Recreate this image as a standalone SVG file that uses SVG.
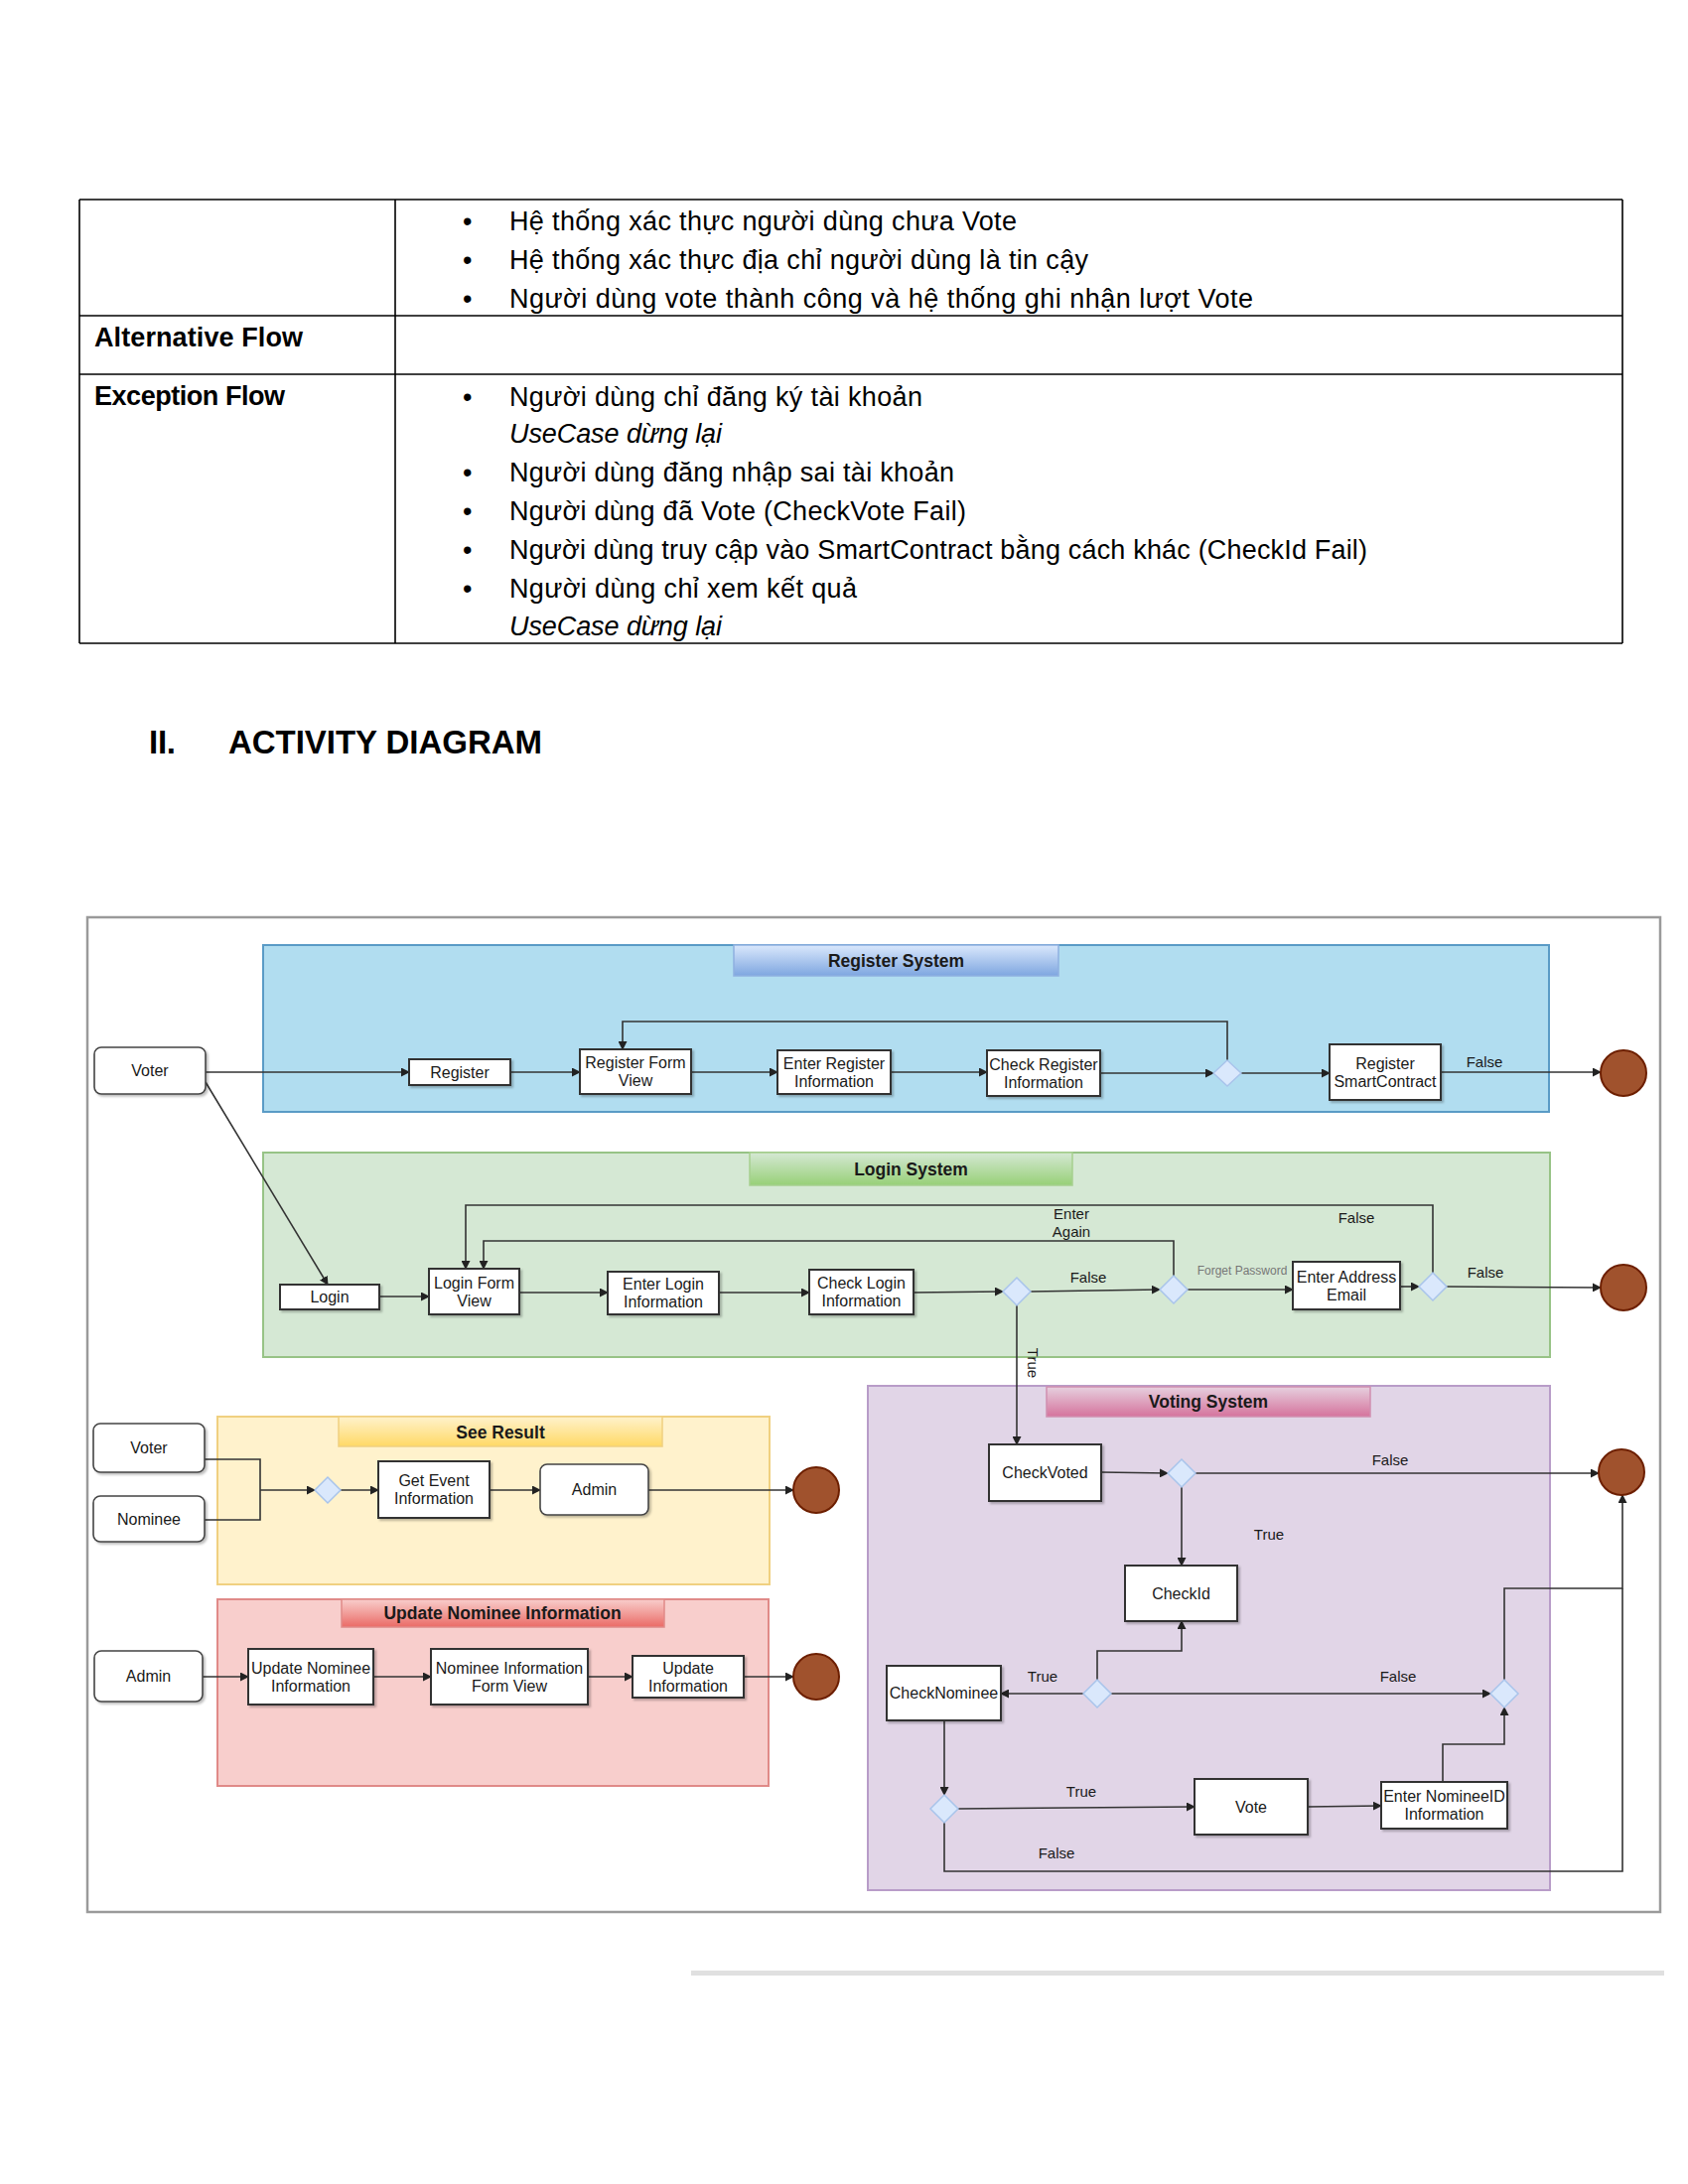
<svg xmlns="http://www.w3.org/2000/svg" width="1700" height="2200" viewBox="0 0 1700 2200">
<defs>
<style>
.tt{font-family:"Liberation Sans",Arial,sans-serif;font-size:27px;fill:#000}
.tb{font-family:"Liberation Sans",Arial,sans-serif;font-size:27px;font-weight:bold;fill:#000}
.ti{font-family:"Liberation Sans",Arial,sans-serif;font-size:27px;font-style:italic;fill:#000}
.tl{stroke:#000;stroke-width:1.6;fill:none}
.lbl{font-family:"Liberation Sans",Arial,sans-serif;font-size:16px;fill:#1a1a1a;text-anchor:middle}
.cl{font-family:"Liberation Sans",Arial,sans-serif;font-size:15px;fill:#1a1a1a;text-anchor:middle}
.ttl{font-family:"Liberation Sans",Arial,sans-serif;font-size:17.5px;font-weight:bold;fill:#1a1a1a;text-anchor:middle}
.box{fill:#fff;stroke:#333;stroke-width:2;filter:url(#sh)}
.rbox{fill:#fff;stroke:#444;stroke-width:1.6;filter:url(#sh)}
.dia{fill:#dae8fc;stroke:#a9c4eb;stroke-width:1.5}
.end{fill:#a0522d;stroke:#6d1f00;stroke-width:2}
.ln{stroke:#333;stroke-width:1.6;fill:none}
.arr{stroke:#333;stroke-width:1.6;fill:none;marker-end:url(#ah)}
</style>
<marker id="ah" markerUnits="userSpaceOnUse" markerWidth="9" markerHeight="9" refX="8" refY="4.5" orient="auto">
<path d="M0,0 L9,4.5 L0,9 z" fill="#222"/>
</marker>
<filter id="sh" x="-10%" y="-10%" width="130%" height="140%">
<feDropShadow dx="2" dy="2" stdDeviation="1" flood-color="#000" flood-opacity="0.25"/>
</filter>
<linearGradient id="gBlue" x1="0" y1="0" x2="0" y2="1"><stop offset="0" stop-color="#dae8fc"/><stop offset="1" stop-color="#7ea6e0"/></linearGradient>
<linearGradient id="gGreen" x1="0" y1="0" x2="0" y2="1"><stop offset="0" stop-color="#d5e8d4"/><stop offset="1" stop-color="#97d077"/></linearGradient>
<linearGradient id="gYellow" x1="0" y1="0" x2="0" y2="1"><stop offset="0" stop-color="#fff2cc"/><stop offset="1" stop-color="#ffd966"/></linearGradient>
<linearGradient id="gRed" x1="0" y1="0" x2="0" y2="1"><stop offset="0" stop-color="#f8cecc"/><stop offset="1" stop-color="#ea6b66"/></linearGradient>
<linearGradient id="gPink" x1="0" y1="0" x2="0" y2="1"><stop offset="0" stop-color="#e6d0de"/><stop offset="1" stop-color="#d5739d"/></linearGradient>
</defs>
<rect width="1700" height="2200" fill="#fff"/>

<!-- Table -->
<g id="table">
<line class="tl" x1="80" y1="201" x2="1634" y2="201"/>
<line class="tl" x1="80" y1="318" x2="1634" y2="318"/>
<line class="tl" x1="80" y1="377" x2="1634" y2="377"/>
<line class="tl" x1="80" y1="648" x2="1634" y2="648" stroke-width="2.2"/>
<line class="tl" x1="80" y1="201" x2="80" y2="648"/>
<line class="tl" x1="398" y1="201" x2="398" y2="648"/>
<line class="tl" x1="1634" y1="201" x2="1634" y2="648"/>
<g class="tt">
<text x="466" y="232">•</text>
<text x="466" y="271">•</text>
<text x="466" y="310">•</text>
<text x="466" y="409">•</text>
<text x="466" y="485">•</text>
<text x="466" y="524">•</text>
<text x="466" y="563">•</text>
<text x="466" y="602">•</text>
<text x="513" y="232" textLength="511">Hệ thống xác thực người dùng chưa Vote</text>
<text x="513" y="271" textLength="583">Hệ thống xác thực địa chỉ người dùng là tin cậy</text>
<text x="513" y="310" textLength="749">Người dùng vote thành công và hệ thống ghi nhận lượt Vote</text>
<text x="513" y="409" textLength="416">Người dùng chỉ đăng ký tài khoản</text>
<text x="513" y="485" textLength="448">Người dùng đăng nhập sai tài khoản</text>
<text x="513" y="524" textLength="460">Người dùng đã Vote (CheckVote Fail)</text>
<text x="513" y="563" textLength="864">Người dùng truy cập vào SmartContract bằng cách khác (CheckId Fail)</text>
<text x="513" y="602" textLength="350">Người dùng chỉ xem kết quả</text>
</g>
<text class="ti" x="513" y="446" textLength="214">UseCase dừng lại</text>
<text class="ti" x="513" y="640" textLength="214">UseCase dừng lại</text>
<text class="tb" x="95" y="349" textLength="210">Alternative Flow</text>
<text class="tb" x="95" y="408" textLength="192">Exception Flow</text>
</g>

<g id="heading">
<text x="150" y="759" font-family="'Liberation Sans',Arial,sans-serif" font-size="33" font-weight="bold" fill="#000" textLength="27">II.</text>
<text x="230" y="759" font-family="'Liberation Sans',Arial,sans-serif" font-size="33" font-weight="bold" fill="#000" textLength="316">ACTIVITY DIAGRAM</text>
</g>

<!-- Outer frame -->
<rect x="88" y="924" width="1584" height="1002" fill="#fff" stroke="#9a9a9a" stroke-width="2.5"/>

<!-- Lanes -->
<g id="lane-register">
<rect x="265" y="952" width="1295" height="168" fill="#b1ddf0" stroke="#5a9bc6" stroke-width="2"/>
<rect x="739" y="952" width="327" height="31" fill="url(#gBlue)" stroke="#8fb0e0" stroke-width="1.5"/>
<text class="ttl" x="902.5" y="974">Register System</text>
</g>
<g id="lane-login">
<rect x="265" y="1161" width="1296" height="206" fill="#d5e8d4" stroke="#97c386" stroke-width="2"/>
<rect x="755" y="1161" width="325" height="33" fill="url(#gGreen)" stroke="#a6cf8f" stroke-width="1.5"/>
<text class="ttl" x="917.5" y="1184">Login System</text>
</g>
<g id="lane-result">
<rect x="219" y="1427" width="556" height="169" fill="#fff2cc" stroke="#f0d080" stroke-width="2"/>
<rect x="341" y="1427" width="326" height="30" fill="url(#gYellow)" stroke="#f0d080" stroke-width="1.5"/>
<text class="ttl" x="504" y="1449">See Result</text>
</g>
<g id="lane-update">
<rect x="219" y="1611" width="555" height="188" fill="#f8cecc" stroke="#e08a88" stroke-width="2"/>
<rect x="344" y="1611" width="325" height="28" fill="url(#gRed)" stroke="#e08a88" stroke-width="1.5"/>
<text class="ttl" x="506" y="1631">Update Nominee Information</text>
</g>
<g id="lane-voting">
<rect x="874" y="1396" width="687" height="508" fill="#e1d5e7" stroke="#b89cc8" stroke-width="2"/>
<rect x="1054" y="1397" width="326" height="30" fill="url(#gPink)" stroke="#d08fb0" stroke-width="1.5"/>
<text class="ttl" x="1217" y="1418">Voting System</text>
</g>

<!-- Connectors -->
<g id="connectors">
<path class="arr" d="M207,1080 L412,1080"/>
<path class="arr" d="M514,1080 L584,1080"/>
<path class="arr" d="M696,1080 L783,1080"/>
<path class="arr" d="M897,1080 L994,1080"/>
<path class="arr" d="M1108,1081 L1222,1081"/>
<path class="arr" d="M1250,1081 L1339,1081"/>
<path class="arr" d="M1236,1068 L1236,1029 L627,1029 L627,1057"/>
<path class="arr" d="M1451,1080 L1612,1080"/>
<text class="cl" x="1495" y="1075">False</text>

<path class="arr" d="M207,1090 L330,1294"/>
<path class="arr" d="M382,1306 L432,1306"/>
<path class="arr" d="M523,1302 L612,1302"/>
<path class="arr" d="M724,1302 L815,1302"/>
<path class="arr" d="M920,1302 L1010,1301"/>
<path class="arr" d="M1038,1301 L1168,1299"/>
<text class="cl" x="1096" y="1292">False</text>
<path class="arr" d="M1196,1299 L1302,1299"/>
<text x="1251" y="1284" font-family="'Liberation Sans',Arial,sans-serif" font-size="12px" fill="#777" text-anchor="middle">Forget Password</text>
<path class="arr" d="M1410,1296 L1429,1296"/>
<path class="arr" d="M1457,1296 L1612,1297"/>
<text class="cl" x="1496" y="1287">False</text>
<path class="arr" d="M1443,1282 L1443,1214 L469,1214 L469,1278"/>
<text class="cl" x="1366" y="1232">False</text>
<path class="arr" d="M1182,1285 L1182,1250 L487,1250 L487,1278"/>
<text class="cl" x="1079" y="1228">Enter</text>
<text class="cl" x="1079" y="1246">Again</text>
<path class="arr" d="M1024,1315 L1024,1455"/>
<text class="cl" transform="translate(1035,1373) rotate(90)" x="0" y="0">True</text>

<path class="arr" d="M1109,1483 L1176,1484"/>
<path class="arr" d="M1204,1484 L1610,1484"/>
<text class="cl" x="1400" y="1476">False</text>
<path class="arr" d="M1190,1497 L1190,1577"/>
<text class="cl" x="1278" y="1551">True</text>
<path class="arr" d="M1105,1692 L1105,1663 L1190,1663 L1190,1633"/>
<path class="arr" d="M1091,1706 L1008,1706"/>
<text class="cl" x="1050" y="1694">True</text>
<path class="arr" d="M1119,1706 L1501,1706"/>
<text class="cl" x="1408" y="1694">False</text>
<path class="arr" d="M1515,1692 L1515,1600 L1634,1600 L1634,1506"/>
<path class="arr" d="M951,1733 L951,1808"/>
<path class="arr" d="M965,1822 L1203,1820"/>
<text class="cl" x="1089" y="1810">True</text>
<path class="arr" d="M1317,1820 L1391,1819"/>
<path class="arr" d="M1453,1795 L1453,1757 L1515,1757 L1515,1720"/>
<path class="ln" d="M951,1836 L951,1885 L1634,1885 L1634,1600"/>
<text class="cl" x="1064" y="1872">False</text>

<path class="ln" d="M206,1470 L262,1470 L262,1531 L206,1531"/>
<path class="arr" d="M262,1501 L317,1501"/>
<path class="arr" d="M343,1501 L381,1501"/>
<path class="arr" d="M493,1501 L544,1501"/>
<path class="arr" d="M653,1501 L799,1501"/>

<path class="arr" d="M204,1689 L250,1689"/>
<path class="arr" d="M376,1689 L434,1689"/>
<path class="arr" d="M592,1689 L637,1689"/>
<path class="arr" d="M749,1689 L799,1689"/>
</g>

<!-- Register nodes -->
<g id="voter1"><rect class="rbox" x="95" y="1055" width="112" height="47" rx="7"/><text class="lbl" x="151" y="1084">Voter</text></g>
<g id="register"><rect class="box" x="412" y="1067" width="102" height="26"/><text class="lbl" x="463" y="1085.5">Register</text></g>
<g id="registerFormView"><rect class="box" x="584" y="1057" width="112" height="45"/><text class="lbl" x="640" y="1076">Register Form</text><text class="lbl" x="640" y="1094">View</text></g>
<g id="enterRegisterInfo"><rect class="box" x="783" y="1058" width="114" height="44"/><text class="lbl" x="840" y="1076.5">Enter Register</text><text class="lbl" x="840" y="1094.5">Information</text></g>
<g id="checkRegisterInfo"><rect class="box" x="994" y="1058" width="114" height="46"/><text class="lbl" x="1051" y="1077.5">Check Register</text><text class="lbl" x="1051" y="1095.5">Information</text></g>
<g id="decisionRegister"><path class="dia" d="M1236,1068 L1250,1081 L1236,1094 L1222,1081 z"/></g>
<g id="registerSmartContract"><rect class="box" x="1339" y="1052" width="112" height="56"/><text class="lbl" x="1395" y="1076.5">Register</text><text class="lbl" x="1395" y="1094.5">SmartContract</text></g>
<g id="end1"><circle class="end" cx="1635" cy="1081" r="23"/></g>

<!-- Login nodes -->
<g id="login"><rect class="box" x="282" y="1294" width="100" height="25"/><text class="lbl" x="332" y="1312">Login</text></g>
<g id="loginFormView"><rect class="box" x="432" y="1278" width="91" height="46"/><text class="lbl" x="477.5" y="1297.5">Login Form</text><text class="lbl" x="477.5" y="1315.5">View</text></g>
<g id="enterLoginInfo"><rect class="box" x="612" y="1281" width="112" height="43"/><text class="lbl" x="668" y="1299">Enter Login</text><text class="lbl" x="668" y="1317">Information</text></g>
<g id="checkLoginInfo"><rect class="box" x="815" y="1279" width="105" height="45"/><text class="lbl" x="867.5" y="1298">Check Login</text><text class="lbl" x="867.5" y="1316">Information</text></g>
<g id="decisionLogin1"><path class="dia" d="M1024,1287 L1038,1301 L1024,1315 L1010,1301 z"/></g>
<g id="decisionLogin2"><path class="dia" d="M1182,1285 L1196,1299 L1182,1313 L1168,1299 z"/></g>
<g id="enterAddressEmail"><rect class="box" x="1302" y="1271" width="108" height="48"/><text class="lbl" x="1356" y="1291.5">Enter Address</text><text class="lbl" x="1356" y="1309.5">Email</text></g>
<g id="decisionLogin3"><path class="dia" d="M1443,1282 L1457,1296 L1443,1310 L1429,1296 z"/></g>
<g id="end2"><circle class="end" cx="1635" cy="1297" r="23"/></g>

<!-- See Result nodes -->
<g id="voter2"><rect class="rbox" x="94" y="1434" width="112" height="49" rx="7"/><text class="lbl" x="150" y="1464">Voter</text></g>
<g id="nominee"><rect class="rbox" x="94" y="1507" width="112" height="46" rx="7"/><text class="lbl" x="150" y="1535.5">Nominee</text></g>
<g id="decisionResult"><path class="dia" d="M330,1488 L343,1501 L330,1514 L317,1501 z"/></g>
<g id="getEventInfo"><rect class="box" x="381" y="1472" width="112" height="57"/><text class="lbl" x="437" y="1497">Get Event</text><text class="lbl" x="437" y="1515">Information</text></g>
<g id="admin1"><rect class="rbox" x="544" y="1475" width="109" height="51" rx="7"/><text class="lbl" x="598.5" y="1506">Admin</text></g>
<g id="end4"><circle class="end" cx="822" cy="1501" r="23"/></g>

<!-- Update nodes -->
<g id="admin2"><rect class="rbox" x="95" y="1663" width="109" height="51" rx="7"/><text class="lbl" x="149.5" y="1694">Admin</text></g>
<g id="updateNomineeInfo"><rect class="box" x="250" y="1661" width="126" height="56"/><text class="lbl" x="313" y="1685.5">Update Nominee</text><text class="lbl" x="313" y="1703.5">Information</text></g>
<g id="nomineeInfoFormView"><rect class="box" x="434" y="1661" width="158" height="56"/><text class="lbl" x="513" y="1685.5">Nominee Information</text><text class="lbl" x="513" y="1703.5">Form View</text></g>
<g id="updateInfo"><rect class="box" x="637" y="1668" width="112" height="42"/><text class="lbl" x="693" y="1685.5">Update</text><text class="lbl" x="693" y="1703.5">Information</text></g>
<g id="end5"><circle class="end" cx="822" cy="1689" r="23"/></g>

<!-- Voting nodes -->
<g id="checkVoted"><rect class="box" x="996" y="1455" width="113" height="57"/><text class="lbl" x="1052.5" y="1489">CheckVoted</text></g>
<g id="decisionVote1"><path class="dia" d="M1190,1470 L1204,1484 L1190,1498 L1176,1484 z"/></g>
<g id="end3"><circle class="end" cx="1633" cy="1483" r="23"/></g>
<g id="checkId"><rect class="box" x="1133" y="1577" width="113" height="56"/><text class="lbl" x="1189.5" y="1610.5">CheckId</text></g>
<g id="decisionVote2"><path class="dia" d="M1105,1692 L1119,1706 L1105,1720 L1091,1706 z"/></g>
<g id="checkNominee"><rect class="box" x="893" y="1678" width="115" height="55"/><text class="lbl" x="950.5" y="1711">CheckNominee</text></g>
<g id="decisionVote3"><path class="dia" d="M1515,1692 L1529,1706 L1515,1720 L1501,1706 z"/></g>
<g id="decisionVote4"><path class="dia" d="M951,1808 L965,1822 L951,1836 L937,1822 z"/></g>
<g id="vote"><rect class="box" x="1203" y="1792" width="114" height="56"/><text class="lbl" x="1260" y="1825.5">Vote</text></g>
<g id="enterNomineeId"><rect class="box" x="1391" y="1795" width="127" height="47"/><text class="lbl" x="1454.5" y="1815">Enter NomineeID</text><text class="lbl" x="1454.5" y="1833">Information</text></g>

<rect x="696" y="1985" width="980" height="5" fill="#e0e0e0"/>
</svg>
